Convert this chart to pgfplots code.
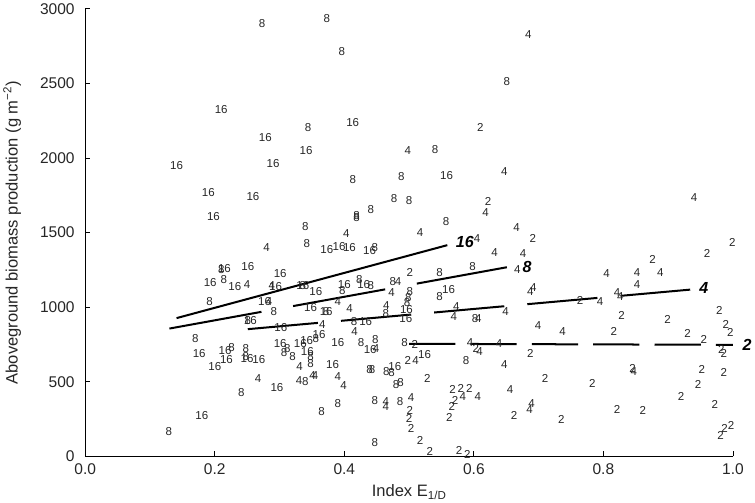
\documentclass[border=0pt]{standalone}
\usepackage{pgfplots}
\pgfplotsset{compat=1.18}
\usepackage{pgfplotstable}
\usepackage{fontspec}
\setmainfont{Liberation Sans}
\pgfplotstableread{
x y l
0.340 1543 8
0.419 1604 8
0.403 1492 4
0.280 1402 4
0.342 1424 8
0.373 1387 16
0.392 1405 16
0.408 1398 16
0.439 1382 16
0.447 1398 8
0.215 1256 16
0.210 1254 8
0.251 1275 16
0.193 1167 16
0.214 1185 8
0.231 1141 16
0.250 1152 4
0.301 1223 16
0.288 1146 4
0.294 1141 16
0.336 1146 16
0.336 1146 8
0.356 1106 16
0.423 1185 8
0.430 1149 16
0.441 1145 8
0.475 1170 8
0.483 1170 4
0.473 1100 4
0.501 1234 2
0.400 1155 16
0.397 1112 8
0.390 1039 4
0.192 1039 8
0.277 1039 16
0.284 1039 4
0.291 972 8
0.348 1001 16
0.408 990 4
0.372 972 16
0.372 972 8
0.465 1010 4
0.464 960 8
0.501 1108 8
0.499 1063 8
0.497 1033 8
0.496 983 16
0.495 927 16
0.255 911 16
0.251 911 8
0.302 864 16
0.366 882 4
0.361 814 16
0.356 792 8
0.415 904 8
0.433 904 16
0.416 840 4
0.170 790 8
0.176 692 16
0.216 710 16
0.226 733 8
0.218 652 16
0.200 603 16
0.248 720 8
0.250 658 16
0.248 670 8
0.268 651 16
0.301 759 16
0.312 720 8
0.307 696 8
0.320 669 8
0.332 759 16
0.342 777 16
0.343 703 16
0.348 669 8
0.348 625 8
0.390 763 16
0.426 763 8
0.448 786 8
0.440 714 16
0.449 725 4
0.331 603 4
0.382 618 16
0.439 584 8
0.443 580 8
0.465 569 8
0.473 564 8
0.478 603 16
0.493 763 8
0.267 523 4
0.296 463 16
0.330 509 4
0.340 502 8
0.351 539 4
0.355 539 4
0.390 534 4
0.399 476 4
0.241 430 8
0.365 304 8
0.390 356 8
0.447 377 8
0.464 366 4
0.464 333 4
0.486 370 8
0.480 479 8
0.487 497 8
0.503 393 4
0.180 272 16
0.129 164 8
0.447 91 8
0.557 1577 8
0.517 1503 4
0.666 1532 4
0.691 1458 2
0.605 1458 4
0.632 1364 4
0.676 1359 4
0.547 1230 8
0.598 1270 8
0.667 1252 4
0.547 1069 8
0.561 1117 16
0.573 1005 4
0.569 938 4
0.602 927 8
0.607 927 4
0.649 971 4
0.687 1107 4
0.692 1130 4
0.764 1043 2
0.795 1039 4
0.805 1223 4
0.852 1230 4
0.888 1234 4
0.852 1152 4
0.876 1323 2
0.821 1100 4
0.826 1073 4
0.960 1357 2
0.999 1436 2
0.979 979 2
0.828 944 2
0.899 920 2
0.699 875 4
0.737 837 4
0.816 837 2
0.930 826 2
0.955 786 2
0.989 882 2
0.996 830 2
0.509 752 2
0.594 763 4
0.603 725 2
0.609 703 4
0.639 759 4
0.687 688 2
0.982 714 2
0.986 692 2
0.498 641 2
0.510 641 4
0.524 685 16
0.588 643 8
0.647 618 4
0.845 591 2
0.847 569 4
0.952 584 2
0.986 564 2
0.528 524 2
0.710 524 2
0.783 490 2
0.946 479 2
0.920 400 2
0.972 349 2
0.567 450 2
0.580 457 2
0.593 457 2
0.606 400 4
0.571 378 2
0.566 333 2
0.583 404 4
0.562 261 2
0.656 450 4
0.689 356 4
0.686 316 4
0.662 277 2
0.735 250 2
0.821 316 2
0.861 311 2
0.981 143 2
0.987 188 2
0.997 210 2
0.501 306 2
0.500 255 2
0.503 188 2
0.517 109 2
0.532 30 2
0.577 41 2
0.590 14 2
0.273 2904 8
0.373 2938 8
0.396 2714 8
0.210 2328 16
0.344 2205 8
0.413 2238 16
0.278 2137 16
0.341 2048 16
0.498 2048 4
0.141 1947 16
0.290 1963 16
0.413 1857 8
0.488 1873 8
0.190 1772 16
0.259 1745 16
0.477 1727 8
0.500 1718 8
0.198 1611 16
0.419 1615 8
0.441 1655 8
0.684 2826 4
0.651 2512 8
0.610 2205 2
0.540 2059 8
0.558 1886 16
0.647 1907 4
0.622 1712 2
0.618 1638 4
0.940 1738 4
}\pts
\begin{document}
\begin{tikzpicture}
\begin{axis}[
  scale only axis, width=644bp, height=445bp,
  xmin=0, xmax=1, ymin=0, ymax=3000,
  axis lines=left, axis line style={-, black, line width=0.8pt},
  tick align=inside, tick style={black, line width=0.8pt}, major tick length=5bp,
  xtick={0,0.2,...,1.0}, ytick={0,500,...,3000},
  xticklabel style={/pgf/number format/fixed,/pgf/number format/fixed zerofill,/pgf/number format/precision=1, yshift=-4bp},
  yticklabel style={xshift=-7bp},
  /pgf/number format/1000 sep={},
  /pgf/number format/assume math mode=true,
  tick label style={font=\fontsize{15.5}{17}\selectfont, color=black!85},
  xlabel={Index E\textsubscript{1/D}},
  ylabel={Aboveground biomass production (g m\textsuperscript{−2})},
  label style={font=\fontsize{16.5}{19}\selectfont, color=black!85},
  xlabel style={yshift=-3bp},
  ylabel style={yshift=12bp},
  clip=false,
]
\addplot[draw=none, mark=none, nodes near coords, point meta=explicit symbolic,
  nodes near coords align=center,
  every node near coord/.append style={font=\fontsize{11.5}{12}\selectfont, color=black!85, inner sep=0pt}]
  table[x=x, y=y, meta=l] {\pts};
\addplot[black, line width=2pt] coordinates {(0.141,927) (0.559,1416)};
\addplot[black, line width=2pt, dash pattern=on 93bp off 32bp] coordinates {(0.130,857) (0.651,1268)};
\addplot[black, line width=2pt, dash pattern=on 70bp off 23bp] coordinates {(0.251,853) (0.934,1118)};
\addplot[black, line width=2pt, dash pattern=on 46bp off 15bp] coordinates {(0.50,755) (1.0,748)};
\node[font=\bfseries\itshape\fontsize{16}{17}\selectfont] at (axis cs:0.586,1436) {16};
\node[font=\bfseries\itshape\fontsize{16}{17}\selectfont] at (axis cs:0.682,1268) {8};
\node[font=\bfseries\itshape\fontsize{16}{17}\selectfont] at (axis cs:0.955,1128) {4};
\node[font=\bfseries\itshape\fontsize{16}{17}\selectfont] at (axis cs:1.022,750) {2};
\end{axis}
\end{tikzpicture}
\end{document}
